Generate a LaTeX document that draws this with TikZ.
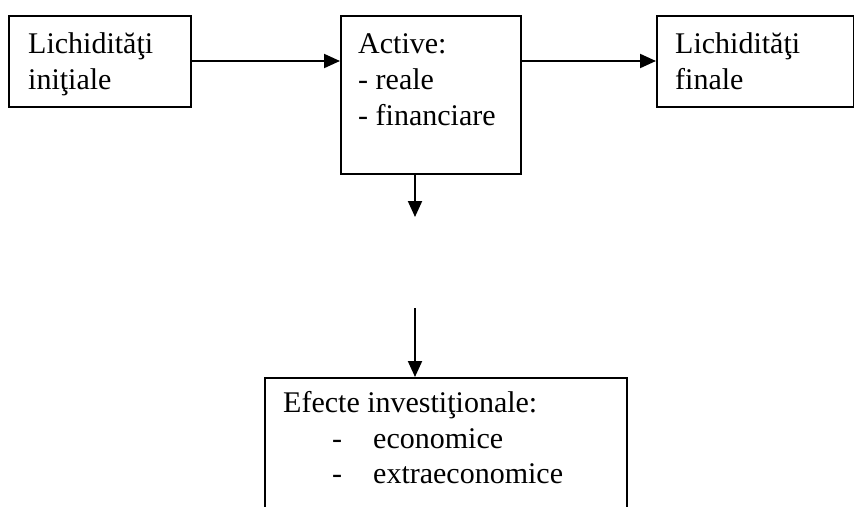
\documentclass[tikz,border=0pt]{standalone}
\usepackage{fontspec}
\setmainfont{Liberation Serif}
\usetikzlibrary{arrows.meta}
\tikzset{
  boxnode/.style={draw=black, line width=2pt, inner sep=0pt, anchor=north west},
  txt/.style={inner sep=0pt, anchor=base west, align=left, font=\fontsize{30}{36}\selectfont},
  conn/.style={line width=2pt, -{Triangle[length=16pt,width=14pt]}}
}
\begin{document}
\begin{tikzpicture}[x=1pt,y=-1pt]
\useasboundingbox (0,0) rectangle (854,506);
% boxes
\node[boxnode, minimum width=182pt, minimum height=91pt] (b1) at (8,15) {};
\node[boxnode, minimum width=180pt, minimum height=158pt] (b2) at (340,15) {};
\node[boxnode, minimum width=197pt, minimum height=91pt] (b3) at (656,15) {};
\node[boxnode, minimum width=362pt, minimum height=160pt] (b4) at (264,377) {};
% texts (base anchor = last line baseline)
\node[txt] (t1) at (28,89) {Lichidităţi\\iniţiale};
\node[txt] (t2) at (358,125) {Active:\\- reale\\- financiare};
\node[txt] (t3) at (675,89) {Lichidităţi\\finale};
\node[txt] (t4) at (283,412) {Efecte investiţionale:};
\node[txt] (t5) at (332,448) {-};
\node[txt] (t6) at (373,448) {economice};
\node[txt] (t7) at (332,483) {-};
\node[txt] (t8) at (373,483) {extraeconomice};
% connectors
\coordinate (d1) at (415,217);
\coordinate (d2) at (415,308);
\draw[conn] (b1.east |- 0,61) -- (b2.west |- 0,61);
\draw[conn] (b2.east |- 0,61) -- (b3.west |- 0,61);
\draw[conn] (d1 |- b2.south) -- (d1);
\draw[conn] (d2) -- (d2 |- b4.north);
\end{tikzpicture}
\end{document}
